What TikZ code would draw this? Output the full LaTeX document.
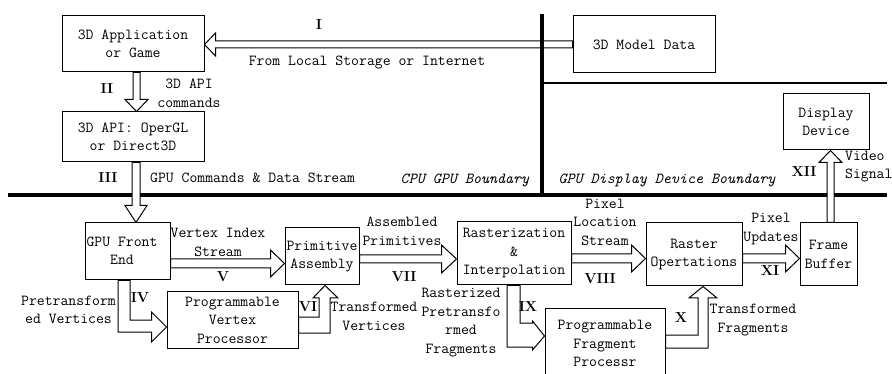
\documentclass[tikz,border=0pt]{standalone}
\usetikzlibrary{calc}
\tikzset{
  box/.style={draw, line width=1pt, inner sep=0pt, align=center,
    font=\ttfamily\fontsize{15.3}{18.5}\selectfont},
  lbl/.style={inner sep=0pt, align=center, font=\ttfamily\fontsize{15.3}{18.5}\selectfont},
  ilbl/.style={inner sep=0pt, font=\ttfamily\itshape\fontsize{15.3}{18.5}\selectfont},
  num/.style={inner sep=0pt, font=\rmfamily\bfseries\fontsize{14.5}{17}\selectfont},
  fat/.style={draw, fill=white, line width=1pt, line join=miter},
  bound/.style={line width=4.5pt},
}
\begin{document}
\begin{tikzpicture}[x=1pt,y=-1pt]
\useasboundingbox (0,0) rectangle (892,374);
\fill[white] (0,0) rectangle (892,374);
\clip (0,0) rectangle (892,374);

% boxes
\node[box, minimum width=142pt, minimum height=56pt] (app) at (133,44) {3D Application\\or Game};
\node[box, minimum width=142pt, minimum height=50pt] (api) at (133,137) {3D API: OperGL\\or Direct3D};
\node[box, minimum width=142pt, minimum height=57pt] (model) at (644,44.5) {3D Model Data};
\node[box, minimum width=86pt, minimum height=56pt] (disp) at (826,122) {Display\\Device};
\node[box, minimum width=85pt, minimum height=57pt] (fe) at (127.5,251.5) {};
\node[lbl] (fet) at (122,251) {GPU Front\\End};
\node[box, minimum width=74pt, minimum height=57pt] (pa) at (322,256.5) {Primitive\\Assembly};
\node[box, minimum width=131pt, minimum height=56pt] (vp) at (232.5,320) {Programmable\\Vertex\\Processor};
\node[box, minimum width=114pt, minimum height=63pt] (ri) at (514,253.5) {Rasterization\\\&\\Interpolation};
\node[box, minimum width=96pt, minimum height=63pt] (ro) at (694,254.5) {Raster\\Opertations};
\node[box, minimum width=57pt, minimum height=63pt] (fb) at (828.5,254.5) {Frame\\Buffer};
\node[box, minimum width=120pt, minimum height=71pt] (fp) at (605,343.5) {Programmable\\Fragment\\Processr};

% boundaries (arrow I lies under the vertical line)
\draw[fat] let \p1=(model.west), \p2=(app.east) in
  (\x1,41) -- (\x2+11pt,41) -- (\x2+11pt,33) -- (\x2,44.5) -- (\x2+11pt,56) -- (\x2+11pt,48) -- (\x1,48) -- cycle;
\draw[bound] (542,14) -- (542,197);
\draw[line width=2.5pt] (542,83) -- (887,83);
\draw[bound] (8,195) -- (887,195);

% fat arrows
\draw[fat] let \p1=(app.south), \p2=(api.north) in
  (133,\y1) -- (133,\y2+12pt) -- (125,\y2+12pt) -- (136.5,\y2) -- (148,\y2+12pt) -- (140,\y2+12pt) -- (140,\y1) -- cycle;
\draw[fat] let \p1=(api.south), \p2=(fe.north) in
  (132,\y1) -- (132,\y2+17pt) -- (125,\y2+17pt) -- (136,\y2) -- (147,\y2+17pt) -- (140,\y2+17pt) -- (140,\y1) -- cycle;
\draw[fat] let \p1=(fb.north), \p2=(disp.south) in
  (827,\y1) -- (827,\y2-12pt) -- (819,\y2-12pt) -- (830.5,\y2) -- (842,\y2-12pt) -- (834,\y2-12pt) -- (834,\y1) -- cycle;
\draw[fat] let \p1=(fe.east), \p2=(pa.west) in
  (\x1,259) -- (\x2-14pt,259) -- (\x2-14pt,250) -- (\x2,263.5) -- (\x2-14pt,277) -- (\x2-14pt,268) -- (\x1,268) -- cycle;
\draw[fat] let \p1=(pa.east), \p2=(ri.west) in
  (\x1,255) -- (\x2-15pt,255) -- (\x2-15pt,245) -- (\x2,259) -- (\x2-15pt,273) -- (\x2-15pt,263) -- (\x1,263) -- cycle;
\draw[fat] let \p1=(ri.east), \p2=(ro.west) in
  (\x1,254) -- (\x2-14pt,254) -- (\x2-14pt,245) -- (\x2,258.5) -- (\x2-14pt,272) -- (\x2-14pt,263) -- (\x1,263) -- cycle;
\draw[fat] let \p1=(ro.east), \p2=(fb.west) in
  (\x1,254) -- (\x2-14pt,254) -- (\x2-14pt,245) -- (\x2,258.5) -- (\x2-14pt,272) -- (\x2-14pt,263) -- (\x1,263) -- cycle;
% L-shaped arrows
\draw[fat] let \p1=(fe.south), \p2=(vp.west) in
  (118,\y1) -- (118,332) -- (\x2-15pt,332) -- (\x2-15pt,342) -- (\x2,327) -- (\x2-15pt,312) -- (\x2-15pt,320) -- (130,320) -- (130,\y1) -- cycle;
\draw[fat] let \p1=(vp.east), \p2=(pa.south) in
  (\x1,317) -- (319,317) -- (319,298) -- (313,298) -- (325,\y2) -- (338,298) -- (330,298) -- (330,333) -- (\x1,333) -- cycle;
\draw[fat] let \p1=(ri.south), \p2=(fp.west) in
  (507,\y1) -- (507,347) -- (\x2-12pt,347) -- (\x2-12pt,350) -- (\x2,336) -- (\x2-12pt,321) -- (\x2-12pt,323) -- (520,323) -- (520,\y1) -- cycle;
\draw[fat] let \p1=(fp.east), \p2=(ro.south) in
  (\x1,335) -- (698,335) -- (698,298) -- (689,298) -- (703,\y2) -- (717,298) -- (708,298) -- (708,348) -- (\x1,348) -- cycle;

% labels
\node[num] (nI) at (319,25) {I};
\node[lbl] (lfrom) at (367,62) {From Local Storage or Internet};
\node[num] (nII) at (107,89) {II};
\node[lbl] (lcmd) at (189,93.5) {3D API\\commands};
\node[num] (nIII) at (108,178) {III};
\node[lbl, anchor=west] (lgpu) at (150,178) {GPU Commands \& Data Stream};
\node[ilbl] (lcpub) at (465,180) {CPU GPU Boundary};
\node[ilbl] (ldispb) at (667,180) {GPU Display Device Boundary};
\node[num] (nXII) at (804,172) {XII};
\node[lbl, anchor=west, align=left] (lvideo) at (845,166.5) {Video\\Signal};
\node[lbl] (lvis) at (218,242.5) {Vertex Index\\Stream};
\node[num] (nV) at (223,277) {V};
\node[num] (nIV) at (140,298) {IV};
\node[lbl] (lpre) at (68.5,310) {Pretransform\\ed Vertices};
\node[num] (nVI) at (308,307) {VI};
\node[lbl] (ltv) at (374,316.5) {Transformed\\Vertices};
\node[lbl] (lasm) at (402,231.5) {Assembled\\Primitives};
\node[num] (nVII) at (404,277) {VII};
\node[lbl] (lrast) at (461,322.5) {Rasterized\\Pretransfo\\rmed\\Fragments};
\node[num] (nIX) at (528,307) {IX};
\node[lbl] (lpls) at (605,222) {Pixel\\Location\\Stream};
\node[num] (nVIII) at (600,279) {VIII};
\node[num] (nX) at (681,318) {X};
\node[lbl] (ltf) at (753,320) {Transformed\\Fragments};
\node[lbl] (lpu) at (771,229) {Pixel\\Updates};
\node[num] (nXI) at (770,271) {XI};
\end{tikzpicture}
\end{document}
